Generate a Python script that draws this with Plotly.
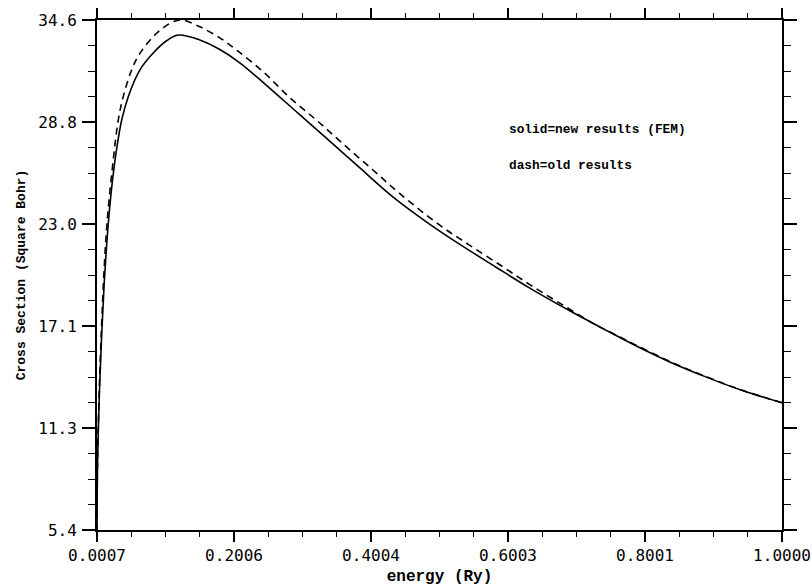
import plotly.graph_objects as go

# ---- data ----
energy_new = [0.0007, 0.0015, 0.0040, 0.0075, 0.0110, 0.0140, 0.0172, 0.0220, 0.0284,
              0.0367, 0.0463, 0.0633, 0.0827, 0.1022, 0.1191, 0.1507, 0.1799, 0.2090,
              0.2479, 0.2964, 0.3353, 0.3838, 0.4323, 0.4858, 0.5295, 0.5829, 0.6314,
              0.6897, 0.7382, 0.7869, 0.8354, 0.8888, 0.9422, 1.0000]
sigma_new = [5.43, 9.20, 13.00, 16.60, 19.40, 21.30, 23.00, 25.00, 27.00,
             28.91, 30.25, 31.78, 32.75, 33.45, 33.78, 33.50, 32.95, 32.19,
             30.90, 29.22, 27.88, 26.18, 24.51, 22.95, 21.80, 20.48, 19.30,
             18.00, 16.98, 15.98, 15.07, 14.20, 13.42, 12.72]

energy_old = [0.0007, 0.0015, 0.0040, 0.0075, 0.0110, 0.0157, 0.0244, 0.0317, 0.0390,
              0.0512, 0.0633, 0.0877, 0.1118, 0.1250, 0.1507, 0.1799, 0.2042, 0.2430,
              0.2818, 0.3207, 0.3595, 0.4032, 0.4421, 0.5003, 0.5440, 0.5926, 0.6314,
              0.6800, 0.7286, 0.7577, 0.7869, 0.8354, 0.8888, 0.9422, 1.0000]
sigma_old = [5.43, 9.50, 13.40, 17.20, 20.30, 23.19, 26.62, 28.91, 30.25,
             31.78, 32.73, 33.88, 34.54, 34.64, 34.25, 33.62, 32.92, 31.68,
             30.20, 28.91, 27.55, 26.05, 24.71, 22.90, 21.75, 20.51, 19.50,
             18.32, 17.17, 16.60, 16.02, 15.10, 14.22, 13.43, 12.72]

x_tick_vals = [0.0007, 0.20056, 0.40042, 0.60028, 0.80014, 1.0000]
x_tick_text = ["0.0007", "0.2006", "0.4004", "0.6003", "0.8001", "1.0000"]
y_tick_vals = [5.43, 11.272, 17.114, 22.956, 28.798, 34.64]
y_tick_text = ["5.4", "11.3", "17.1", "23.0", "28.8", "34.6"]

x_title = "energy (Ry)"
y_title = "Cross Section (Square Bohr)"
note_lines = ["solid=new results (FEM)", "dash=old results"]

fig = go.Figure()
fig.add_trace(go.Scatter(x=energy_old, y=sigma_old, mode="lines",
                         line=dict(color="black", width=1.6, dash="7px,5px", shape="spline", smoothing=1.0),
                         showlegend=False, hoverinfo="skip"))
fig.add_trace(go.Scatter(x=energy_new, y=sigma_new, mode="lines",
                         line=dict(color="black", width=1.6, shape="spline", smoothing=1.0),
                         showlegend=False, hoverinfo="skip"))

tickfont = dict(family="DejaVu Sans Mono", size=16, color="black")
titlefont_name = "Liberation Mono"

fig.update_xaxes(range=[0.0007, 1.0], tickmode="array", tickvals=x_tick_vals, ticktext=x_tick_text,
                 ticks="outside", ticklen=10, tickwidth=1.5, tickcolor="black",
                 showline=True, linewidth=2, linecolor="black", mirror="ticks",
                 showgrid=False, zeroline=False, tickfont=tickfont, automargin=False,
                 minor=dict(tickmode="linear", tick0=0.0007, dtick=0.049965, ticks="outside",
                            ticklen=5, tickwidth=1.3, tickcolor="black", showgrid=False),
                 title=dict(text="<b>" + x_title + "</b>", standoff=6,
                            font=dict(family=titlefont_name, size=16, color="black")))
fig.update_yaxes(range=[5.43, 34.64], tickmode="array", tickvals=y_tick_vals, ticktext=y_tick_text,
                 ticks="outside", ticklen=13, tickwidth=1.5, tickcolor="black",
                 showline=True, linewidth=2, linecolor="black", mirror="ticks",
                 showgrid=False, zeroline=False, tickfont=tickfont, ticklabelstandoff=2,
                 automargin=False,
                 minor=dict(tickmode="linear", tick0=5.43, dtick=1.4605, ticks="outside",
                            ticklen=7, tickwidth=1.3, tickcolor="black", showgrid=False),
                 title=dict(text="<b>" + y_title + "</b>", standoff=10,
                            font=dict(family=titlefont_name, size=13, color="black")))

for txt, yp in zip(note_lines, [129, 165]):
    fig.add_annotation(xref="paper", yref="paper",
                       x=(507 - 97) / 685, y=(530 - yp) / 510,
                       xanchor="left", yanchor="middle", showarrow=False,
                       text="<b>" + txt + "</b>",
                       font=dict(family=titlefont_name, size=12.8, color="black"))

fig.update_layout(width=812, height=586, margin=dict(l=97, r=30, t=20, b=56, autoexpand=False),
                  paper_bgcolor="white", plot_bgcolor="white")

fig.write_html("out.html", config={"displayModeBar": False},
               post_script="document.body.style.margin='0';document.body.style.padding='0';"
                           "document.body.style.overflow='hidden';")
